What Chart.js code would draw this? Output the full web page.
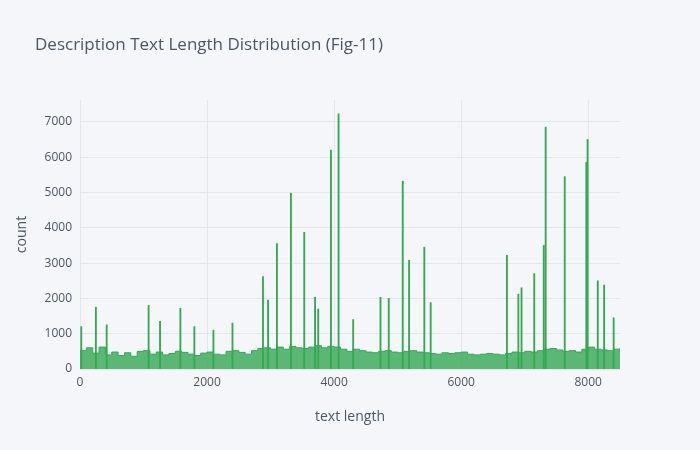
<!DOCTYPE html>
<html>
<head>
<meta charset="utf-8">
<script src="https://cdn.jsdelivr.net/npm/chart.js@4"></script>
<style>
  html, body { margin: 0; background: #f5f6f9; }
  #wrap { width: 700px; height: 450px; }
</style>
</head>
<body>
<div id="wrap"><canvas id="mainChart"></canvas></div>
<script>
// background noise level of the histogram, one value per 100 of text length
const baseStart = 0;
const baseStep = 100;
const baseCounts = [
  520, 600, 450, 620, 400, 480, 380, 460, 360, 500,
  520, 420, 480, 400, 440, 500, 470, 420, 380, 450,
  480, 420, 400, 500, 520, 470, 420, 520, 580, 600,
  560, 620, 560, 640, 600, 580, 620, 660, 600, 640,
  620, 560, 500, 560, 520, 480, 460, 500, 520, 480,
  460, 500, 520, 480, 460, 440, 420, 460, 440, 460,
  480, 420, 400, 420, 440, 420, 400, 440, 480, 460,
  500, 480, 520, 560, 580, 540, 500, 520, 480, 560,
  620, 560, 540, 520, 560, 600
];

// tall isolated bins (text length, count)
const spikeLengths = [
  20, 250, 420, 1080, 1260, 1580, 1800, 2100, 2400, 2880,
  2960, 3100, 3320, 3530, 3700, 3750, 3950, 4070, 4300, 4730,
  4860, 5080, 5180, 5420, 5520, 6720, 6900, 6950, 7150, 7300,
  7330, 7630, 7970, 7990, 8150, 8250, 8400
];
const spikeCounts = [
  1200, 1750, 1250, 1800, 1350, 1720, 1200, 1100, 1300, 2620,
  1950, 3550, 4980, 3870, 2030, 1700, 6200, 7230, 1400, 2030,
  2000, 5320, 3080, 3450, 1880, 3220, 2120, 2300, 2700, 3500,
  6850, 5450, 5850, 6500, 2500, 2380, 1450
];

const xTicks = [0, 2000, 4000, 6000, 8000];
const yTicks = [0, 1000, 2000, 3000, 4000, 5000, 6000, 7000];

const GREEN = '#34a853';
const TEXT = '#4d5663';
const GRID = '#e3e6ec';

const baseData = baseCounts.map((v, i) => ({ x: baseStart + i * baseStep, y: v }));
const spikeData = spikeLengths.map((x, i) => ({ x, y: spikeCounts[i] }));

const titlePlugin = {
  id: 'figTitle',
  afterDraw(chart) {
    const ctx = chart.ctx;
    ctx.save();
    ctx.fillStyle = TEXT;
    ctx.font = '17px "Open Sans", sans-serif';
    ctx.textBaseline = 'middle';
    ctx.fillText('Description Text Length Distribution (Fig-11)', 35, 45);
    ctx.restore();
  }
};

const tickFont = { size: 12, family: '"Open Sans", sans-serif' };
const titleFont = { size: 14, family: '"Open Sans", sans-serif' };

new Chart(document.getElementById('mainChart').getContext('2d'), {
  type: 'bar',
  data: {
    datasets: [
      {
        type: 'bar',
        data: spikeData,
        backgroundColor: GREEN,
        barThickness: 1.2,
        order: 1
      },
      {
        type: 'line',
        data: baseData,
        stepped: true,
        fill: 'origin',
        backgroundColor: 'rgba(52,168,83,0.8)',
        borderColor: GREEN,
        borderWidth: 1,
        pointRadius: 0,
        order: 2
      }
    ]
  },
  options: {
    responsive: true,
    maintainAspectRatio: false,
    animation: false,
    layout: { padding: { left: 10, top: 100, right: 80, bottom: 21 } },
    plugins: { legend: { display: false }, tooltip: { enabled: false } },
    scales: {
      x: {
        type: 'linear',
        offset: false,
        min: 0,
        max: 8500,
        afterFit: s => { s.height = 60; },
        afterBuildTicks: s => { s.ticks = xTicks.map(v => ({ value: v })); },
        grid: { color: GRID, drawTicks: false, offset: false },
        border: { display: false },
        ticks: { color: TEXT, font: tickFont, padding: 6, callback: v => String(v) },
        title: { display: true, text: 'text length', color: TEXT, font: titleFont }
      },
      y: {
        min: 0,
        max: 7620,
        afterFit: s => { s.width = 70; },
        afterBuildTicks: s => { s.ticks = yTicks.map(v => ({ value: v })); },
        grid: { color: GRID, drawTicks: false },
        border: { display: false },
        ticks: { color: TEXT, font: tickFont, padding: 8, callback: v => String(v) },
        title: { display: true, text: 'count', color: TEXT, font: titleFont }
      }
    }
  },
  plugins: [titlePlugin]
});
</script>
</body>
</html>
